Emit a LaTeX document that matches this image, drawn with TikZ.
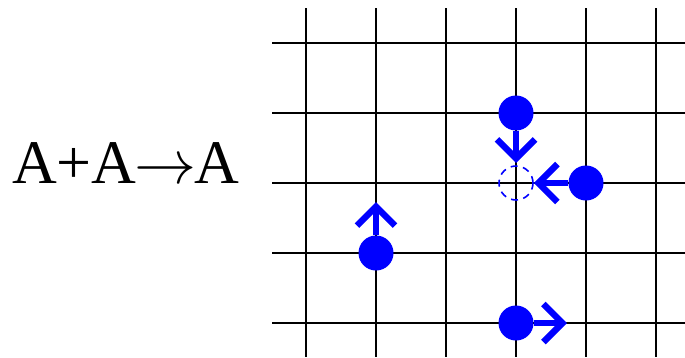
\documentclass[tikz,border=0pt]{standalone}
\usepackage{fix-cm}
\usepackage{fontspec}
\setmainfont{Liberation Serif}
\usetikzlibrary{arrows.meta,positioning}
\definecolor{partB}{RGB}{0,0,255}

\begin{document}
\begin{tikzpicture}[x=1pt, y=-1pt,
  grid/.style={line width=2pt, black},
  part/.style={circle, fill=partB, minimum size=35pt, inner sep=0pt},
  gone/.style={circle, draw=partB, dash pattern=on 7pt off 5.5pt, line width=1.6pt, minimum size=34pt, inner sep=0pt},
  hop/.style={partB, line width=6.5pt, -{Straight Barb[length=19pt, width=38pt, line width=6.5pt]}}]
  \useasboundingbox (0,0) rectangle (685,357);
  % lattice
  \foreach \gx in {306,376,446,516,586,656}
    \draw[grid] (\gx,8) -- (\gx,357);
  \foreach \gy in {43,113,183,253,323}
    \draw[grid] (272,\gy) -- (685,\gy);

  % reaction label
  \node[anchor=base west, inner sep=0pt, font=\fontsize{62}{70}\selectfont] (rxn) at (12,183)
    {A+A\hspace{-2pt}$\rightarrow$\hspace{-2pt}A};

  % particles
  \node[part] (p1) at (516,113) {};
  \node[part] (p2) at (586,183) {};
  \node[part] (p3) at (376,253) {};
  \node[part] (p4) at (516,323) {};
  \node[gone] (meet) at (516,183) {};

  % hopping targets
  \coordinate (t1) at (516,163);
  \coordinate (t3) at (376,202);
  \coordinate (t4) at (567,323);
  \draw[hop] (p1) -- (t1);
  \draw[hop] (p2) -- (meet.east);
  \draw[hop] (p3) -- (t3);
  \draw[hop] (p4) -- (t4);
\end{tikzpicture}
\end{document}
